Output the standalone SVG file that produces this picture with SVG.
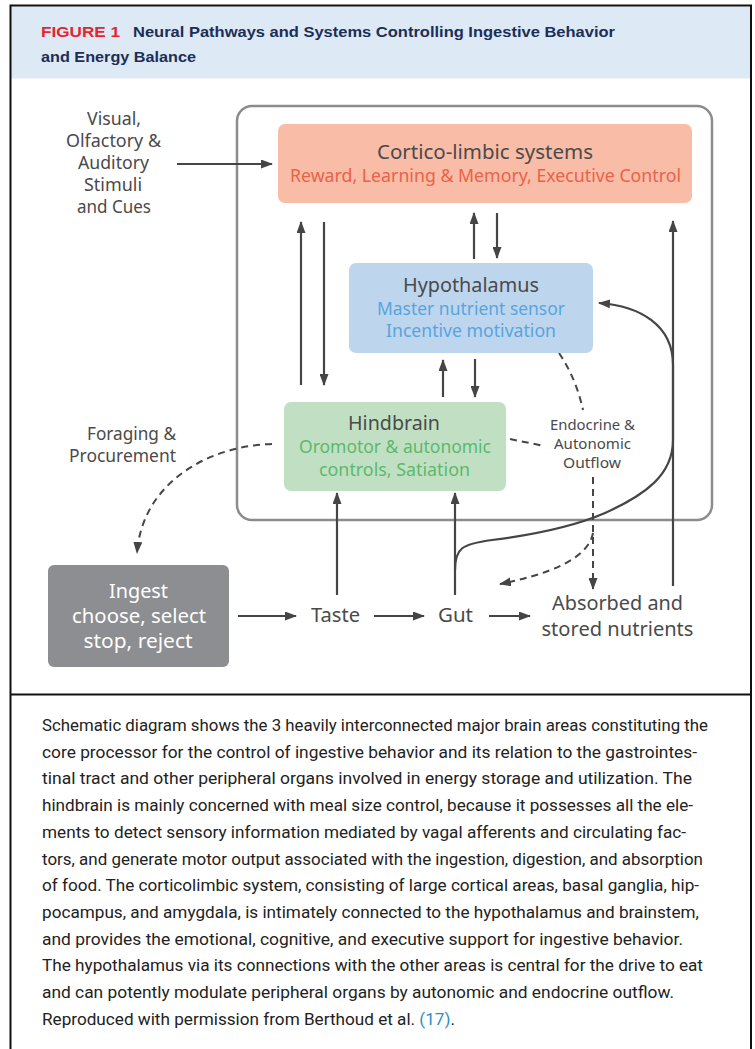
<svg xmlns="http://www.w3.org/2000/svg" width="755" height="1049" viewBox="0 0 755 1049">
<defs>
<style>
.t{font-family:"Noto Sans","Open Sans","DejaVu Sans",sans-serif;fill:#4a4a4a;text-anchor:middle}
.h{font-size:20px}
.s{font-size:18px}
.l{font-size:18px}
.sm{font-size:15px}
.c{stroke:#454545;stroke-width:2.2;fill:none}
.d{stroke:#454545;stroke-width:2;fill:none;stroke-dasharray:7 5}
.cap{font-family:"Liberation Sans Narrow","Roboto","Liberation Sans",sans-serif;font-size:16.5px;fill:#222}
</style>
<marker id="a" viewBox="0 0 12 9" refX="11" refY="4.5" markerWidth="12" markerHeight="9" markerUnits="userSpaceOnUse" orient="auto">
<path d="M0,0 L12,4.5 L0,9 z" fill="#454545"/>
</marker>
</defs>
<rect x="0" y="0" width="755" height="1049" fill="#fff"/>
<g id="header">
<rect x="11" y="6.5" width="739" height="72" fill="#dde9f5"/>
<path d="M10.5,1049 V5.5 H751 V1049" fill="none" stroke="#111" stroke-width="2"/>
<line x1="10" y1="694.5" x2="752" y2="694.5" stroke="#111" stroke-width="2"/>
<text x="41" y="37" font-family="Liberation Sans,Arial,sans-serif" font-weight="bold" font-size="14" fill="#e2262f" textLength="79" lengthAdjust="spacingAndGlyphs">FIGURE 1</text>
<text x="133" y="37" font-family="Liberation Sans,Arial,sans-serif" font-weight="bold" font-size="15.5" fill="#1c2e58" textLength="482" lengthAdjust="spacingAndGlyphs">Neural Pathways and Systems Controlling Ingestive Behavior</text>
<text x="41" y="62" font-family="Liberation Sans,Arial,sans-serif" font-weight="bold" font-size="15.5" fill="#1c2e58" textLength="155" lengthAdjust="spacingAndGlyphs">and Energy Balance</text>
</g>
<g id="core-frame">
<rect x="237" y="106" width="475" height="414" rx="15" fill="none" stroke="#8c8c8c" stroke-width="2.5"/>
</g>
<g id="connectors">
<path class="c" d="M177,164 H272" marker-end="url(#a)"/>
<path class="c" d="M301,385 V222" marker-end="url(#a)"/>
<path class="c" d="M324,222 V385" marker-end="url(#a)"/>
<path class="c" d="M474,259 V213" marker-end="url(#a)"/>
<path class="c" d="M497,213 V258" marker-end="url(#a)"/>
<path class="c" d="M443,397 V360" marker-end="url(#a)"/>
<path class="c" d="M475,359 V397" marker-end="url(#a)"/>
<path class="c" d="M673,586 V221" marker-end="url(#a)"/>
<path class="c" d="M337,595 V493" marker-end="url(#a)"/>
<path class="c" d="M455,595 V493" marker-end="url(#a)"/>
<path class="c" d="M455,570 C455,548 462,544 492,540 C540,534 575,526 605,513 C645,495 673,475 673,440 L673,365 C673,325 640,306 599,303" marker-end="url(#a)"/>
<path class="c" d="M238,616 H296" marker-end="url(#a)"/>
<path class="c" d="M374,616 H424" marker-end="url(#a)"/>
<path class="c" d="M489,616 H530" marker-end="url(#a)"/>
<path class="d" d="M272,444 C205,446 142,485 137,553" marker-end="url(#a)"/>
<path class="d" d="M559,353 Q576,378 583,410"/>
<path class="d" d="M510,439 L544,446"/>
<path class="d" d="M593,477 V589" marker-end="url(#a)"/>
<path class="d" d="M593,533 C588,560 545,575 500,584" marker-end="url(#a)"/>
</g>
<g id="cortico">
<rect x="278" y="124" width="414" height="79" rx="7" fill="#f9bca7"/>
<text class="t h" x="485" y="159" textLength="216" lengthAdjust="spacingAndGlyphs">Cortico-limbic systems</text>
<text class="t s" x="485.5" y="182" style="fill:#ea6249" textLength="391" lengthAdjust="spacingAndGlyphs">Reward, Learning &amp; Memory, Executive Control</text>
</g>
<g id="hypothalamus">
<rect x="349" y="263" width="244" height="90" rx="7" fill="#bdd6ee"/>
<text class="t h" x="471" y="292" textLength="136" lengthAdjust="spacingAndGlyphs">Hypothalamus</text>
<text class="t s" x="471" y="315" style="fill:#58a4de" textLength="188" lengthAdjust="spacingAndGlyphs">Master nutrient sensor</text>
<text class="t s" x="471" y="337" style="fill:#58a4de" textLength="170" lengthAdjust="spacingAndGlyphs">Incentive motivation</text>
</g>
<g id="hindbrain">
<rect x="284" y="402" width="222" height="89" rx="7" fill="#c1e0c3"/>
<text class="t h" x="394" y="430" textLength="92" lengthAdjust="spacingAndGlyphs">Hindbrain</text>
<text class="t s" x="395" y="453" style="fill:#5cb96b" textLength="192" lengthAdjust="spacingAndGlyphs">Oromotor &amp; autonomic</text>
<text class="t s" x="394.5" y="476" style="fill:#5cb96b" textLength="151" lengthAdjust="spacingAndGlyphs">controls, Satiation</text>
</g>
<g id="ingest">
<rect x="48" y="565" width="181" height="102" rx="6" fill="#8d8e91"/>
<text class="t h" x="138.5" y="598" style="fill:#fff" textLength="59" lengthAdjust="spacingAndGlyphs">Ingest</text>
<text class="t h" x="139" y="623" style="fill:#fff" textLength="134" lengthAdjust="spacingAndGlyphs">choose, select</text>
<text class="t h" x="138" y="648" style="fill:#fff" textLength="109" lengthAdjust="spacingAndGlyphs">stop, reject</text>
</g>
<g id="stimuli">
<text class="t l" x="114" y="125" textLength="54" lengthAdjust="spacingAndGlyphs">Visual,</text>
<text class="t l" x="113.5" y="147" textLength="95" lengthAdjust="spacingAndGlyphs">Olfactory &amp;</text>
<text class="t l" x="113.5" y="169" textLength="71" lengthAdjust="spacingAndGlyphs">Auditory</text>
<text class="t l" x="113" y="191" textLength="58" lengthAdjust="spacingAndGlyphs">Stimuli</text>
<text class="t l" x="114" y="213" textLength="74" lengthAdjust="spacingAndGlyphs">and Cues</text>
</g>
<g id="foraging">
<text class="t l" x="176" y="440" style="text-anchor:end" textLength="89" lengthAdjust="spacingAndGlyphs">Foraging &amp;</text>
<text class="t l" x="176" y="462" style="text-anchor:end" textLength="107" lengthAdjust="spacingAndGlyphs">Procurement</text>
</g>
<g id="outflow">
<text class="t sm" x="592.5" y="430" textLength="85" lengthAdjust="spacingAndGlyphs">Endocrine &amp;</text>
<text class="t sm" x="592.5" y="449" textLength="77" lengthAdjust="spacingAndGlyphs">Autonomic</text>
<text class="t sm" x="592" y="468" textLength="58" lengthAdjust="spacingAndGlyphs">Outflow</text>
</g>
<g id="taste">
<text class="t h" x="335.5" y="622" textLength="49" lengthAdjust="spacingAndGlyphs">Taste</text>
</g>
<g id="gut">
<text class="t h" x="455.5" y="622" textLength="35" lengthAdjust="spacingAndGlyphs">Gut</text>
</g>
<g id="nutrients">
<text class="t h" x="617.5" y="610" textLength="131" lengthAdjust="spacingAndGlyphs">Absorbed and</text>
<text class="t h" x="617.5" y="636" textLength="152" lengthAdjust="spacingAndGlyphs">stored nutrients</text>
</g>
<g id="caption">
<text class="cap" x="42" y="731" textLength="666" lengthAdjust="spacingAndGlyphs">Schematic diagram shows the 3 heavily interconnected major brain areas constituting the</text>
<text class="cap" x="42" y="757.7" textLength="655" lengthAdjust="spacingAndGlyphs">core processor for the control of ingestive behavior and its relation to the gastrointes-</text>
<text class="cap" x="42" y="784.4" textLength="650" lengthAdjust="spacingAndGlyphs">tinal tract and other peripheral organs involved in energy storage and utilization. The</text>
<text class="cap" x="42" y="811.1" textLength="651" lengthAdjust="spacingAndGlyphs">hindbrain is mainly concerned with meal size control, because it possesses all the ele-</text>
<text class="cap" x="42" y="837.8" textLength="644" lengthAdjust="spacingAndGlyphs">ments to detect sensory information mediated by vagal afferents and circulating fac-</text>
<text class="cap" x="42" y="864.5" textLength="661" lengthAdjust="spacingAndGlyphs">tors, and generate motor output associated with the ingestion, digestion, and absorption</text>
<text class="cap" x="42" y="891.2" textLength="657" lengthAdjust="spacingAndGlyphs">of food. The corticolimbic system, consisting of large cortical areas, basal ganglia, hip-</text>
<text class="cap" x="42" y="917.9" textLength="657" lengthAdjust="spacingAndGlyphs">pocampus, and amygdala, is intimately connected to the hypothalamus and brainstem,</text>
<text class="cap" x="42" y="944.6" textLength="641" lengthAdjust="spacingAndGlyphs">and provides the emotional, cognitive, and executive support for ingestive behavior.</text>
<text class="cap" x="42" y="971.3" textLength="661" lengthAdjust="spacingAndGlyphs">The hypothalamus via its connections with the other areas is central for the drive to eat</text>
<text class="cap" x="42" y="998" textLength="632" lengthAdjust="spacingAndGlyphs">and can potently modulate peripheral organs by autonomic and endocrine outflow.</text>
<text class="cap" x="42" y="1024.7" textLength="413" lengthAdjust="spacingAndGlyphs">Reproduced with permission from Berthoud et al. <tspan fill="#2a8fc8">(17)</tspan>.</text>
</g>
</svg>
